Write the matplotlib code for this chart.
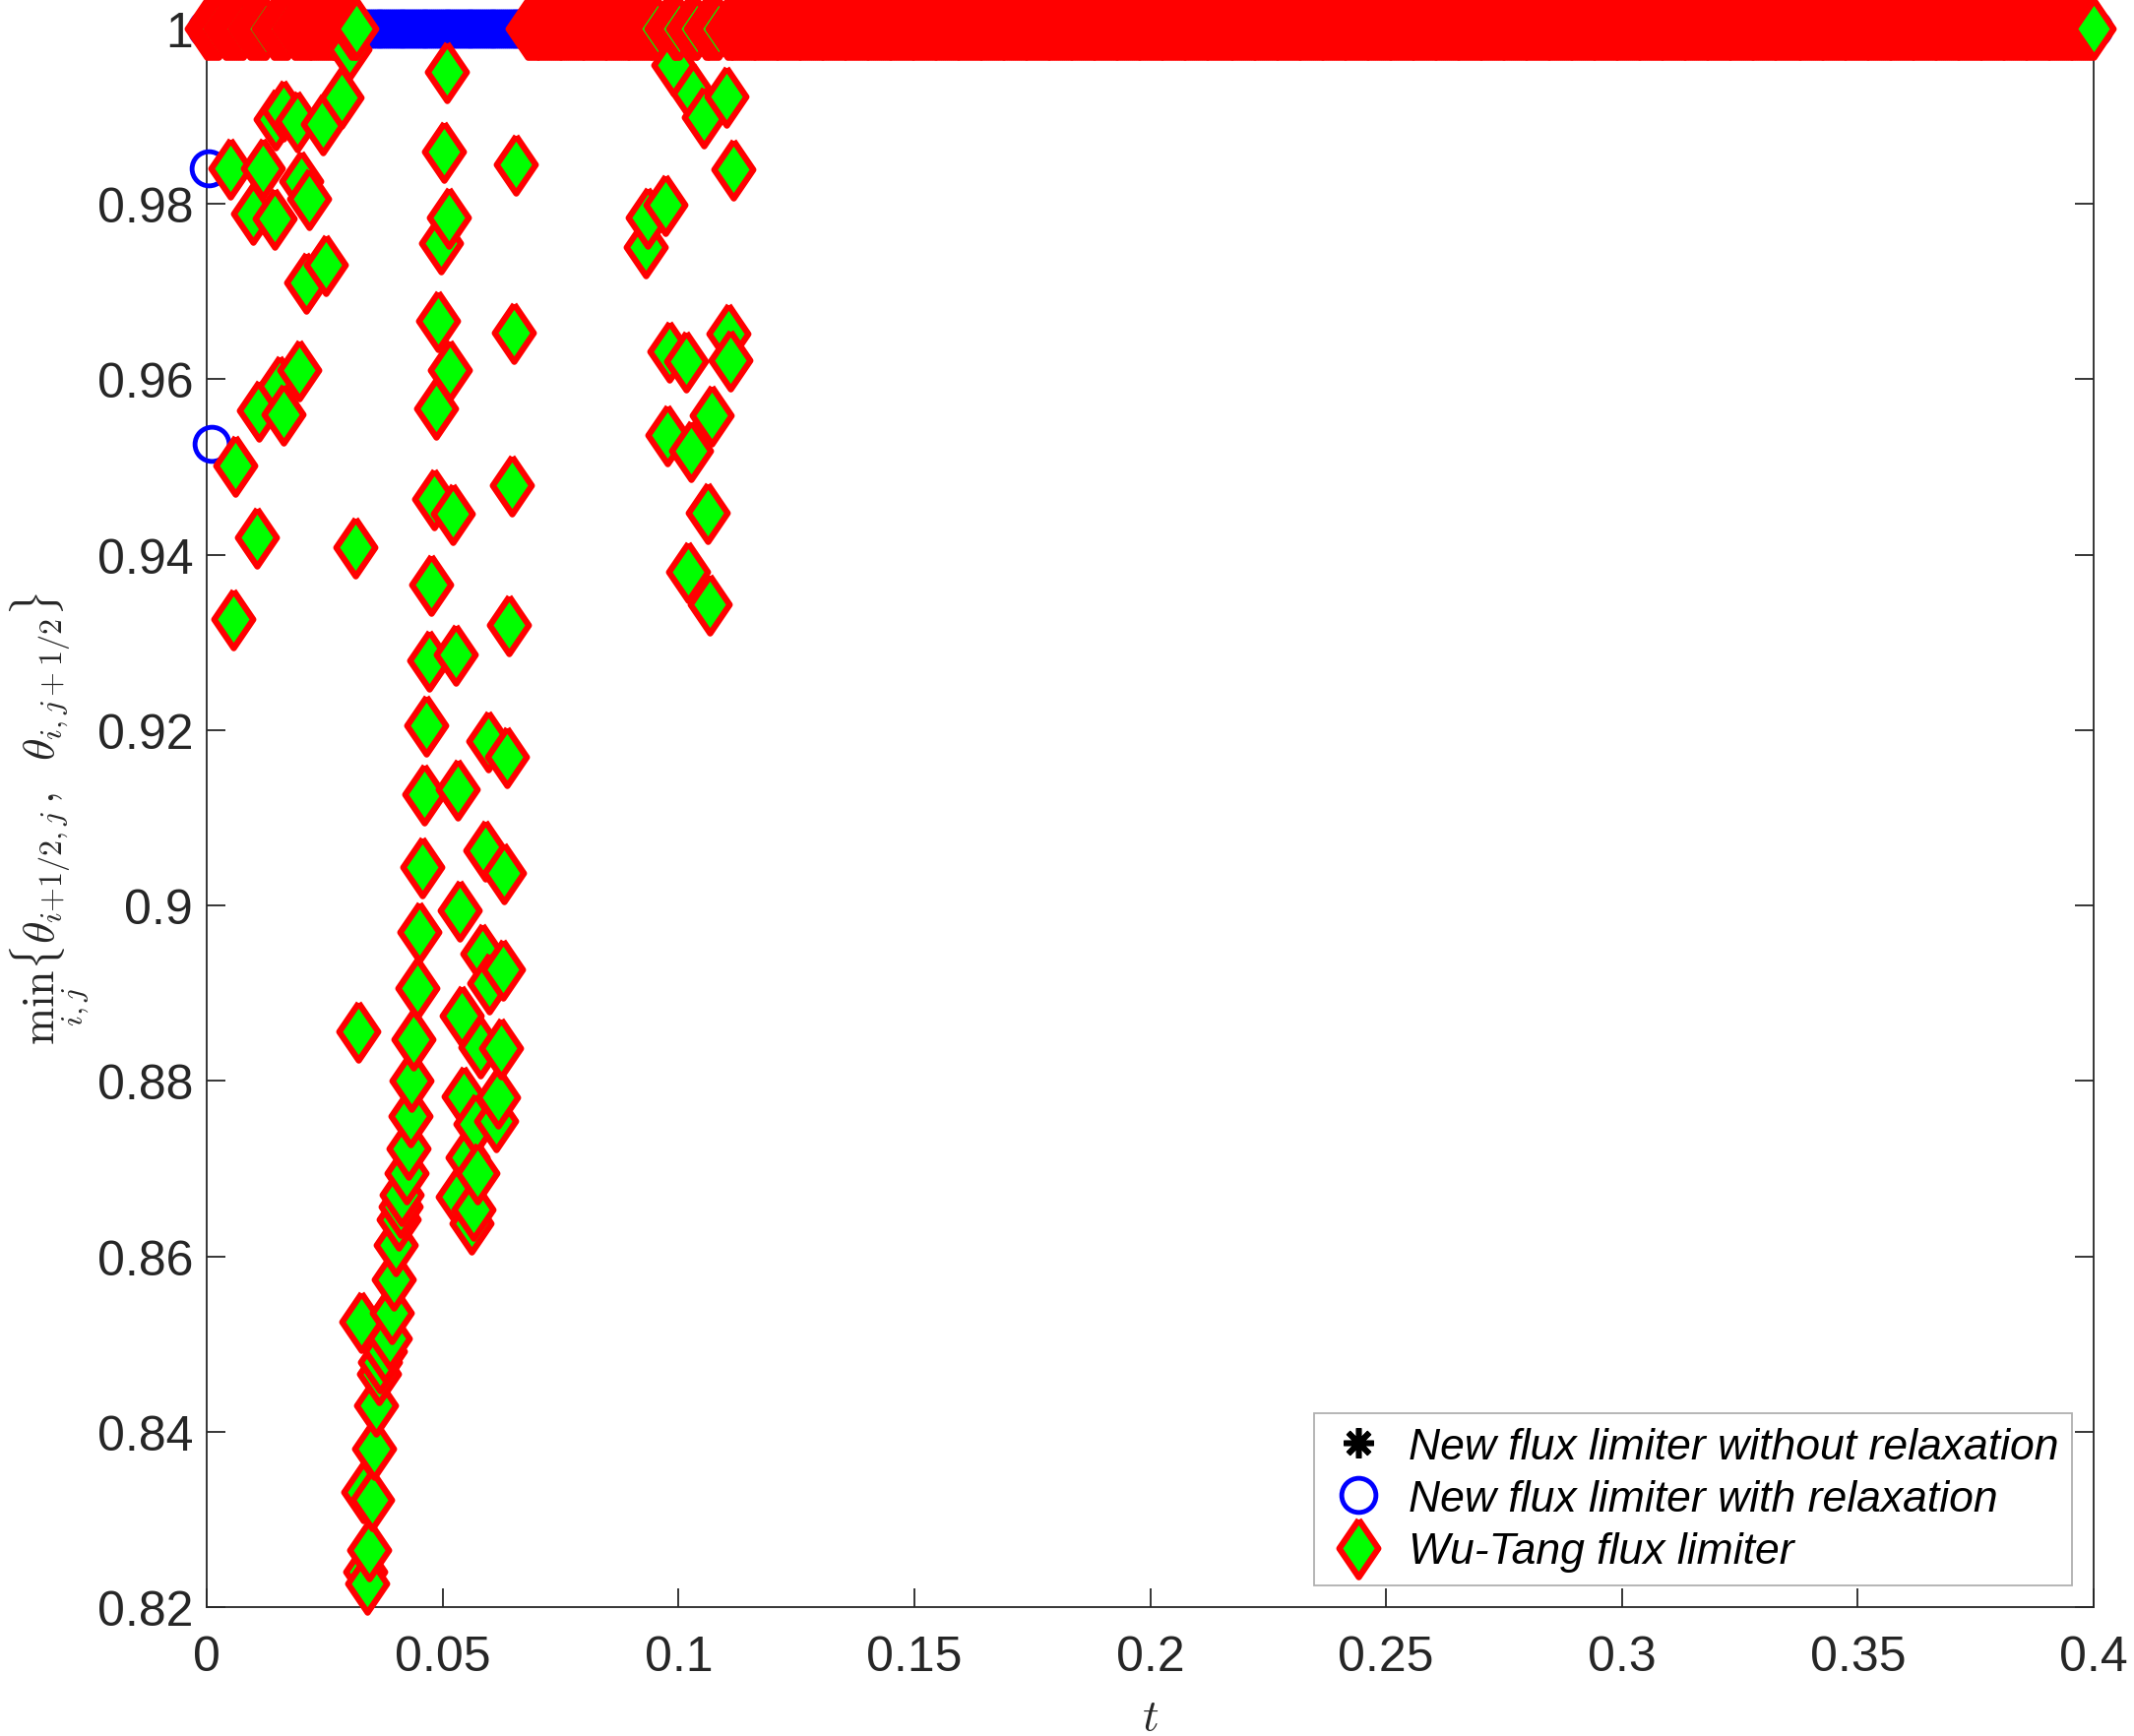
import matplotlib.pyplot as plt
import numpy as np
from matplotlib.markers import MarkerStyle

plt.rcParams['font.family'] = ['Liberation Sans', 'DejaVu Sans']
plt.rcParams['mathtext.fontset'] = 'cm'

# time stepping of the run
dt = 0.0004
t_end = 0.4

# new limiter with relaxation: only the first steps drop below 1
relax_t = [0.0005, 0.0010]
relax_y = [0.9841, 0.9527]

# Wu-Tang limiter: time spans where min theta stays at 1
wt_one_spans = [(0.0, 0.0023), (0.0040, 0.0075), (0.0092, 0.0125), (0.0142, 0.0169),
                (0.0186, 0.0317), (0.0680, 0.0956), (0.0974, 0.1002), (0.1020, 0.1039),
                (0.1057, 0.1085), (0.1103, 0.4)]

# Wu-Tang limiter: steps where min theta < 1
wt_t = [0.0050, 0.0098, 0.0119, 0.0143, 0.0145, 0.0163, 0.0192, 0.0201, 0.0217, 0.0210,
        0.0247, 0.0252, 0.0285, 0.0303, 0.0196, 0.0154, 0.0111, 0.0162, 0.0060, 0.0106,
        0.0315, 0.0056, 0.0322,
        0.0508, 0.0502, 0.0655, 0.0513, 0.0496, 0.0490, 0.0651, 0.0515, 0.0486, 0.0482,
        0.0522, 0.0646, 0.0475, 0.0640, 0.0471, 0.0527, 0.0466, 0.0597, 0.0636, 0.0461,
        0.0532, 0.0457, 0.0590, 0.0631, 0.0536, 0.0451, 0.0585, 0.0627, 0.0598, 0.0446,
        0.0439, 0.0540, 0.0580, 0.0623, 0.0434, 0.0545, 0.0617, 0.0432, 0.0569, 0.0613,
        0.0427, 0.0553, 0.0424, 0.0573, 0.0413, 0.0410, 0.0406, 0.0401, 0.0396, 0.0392,
        0.0327, 0.0387, 0.0378, 0.0368, 0.0365, 0.0359, 0.0355, 0.0331, 0.0350, 0.0345,
        0.0336, 0.0340, 0.0531, 0.0565, 0.0562,
        0.0930, 0.0935, 0.0973, 0.0988, 0.1030, 0.1053, 0.1102, 0.1116, 0.0981, 0.1016,
        0.1106, 0.1109, 0.1070, 0.0977, 0.1027, 0.1062, 0.1021, 0.1067]
wt_y = [0.9841, 0.9789, 0.9841, 0.9783, 0.9897, 0.9907, 0.9894, 0.9826, 0.9806, 0.9711,
        0.9891, 0.9731, 0.9922, 0.9976, 0.9611, 0.9593, 0.9565, 0.9560, 0.9502, 0.9420,
        0.9409, 0.9327, 0.8857,
        0.9951, 0.9860, 0.9845, 0.9785, 0.9755, 0.9667, 0.9653, 0.9611, 0.9567, 0.9464,
        0.9447, 0.9479, 0.9366, 0.9320, 0.9280, 0.9286, 0.9206, 0.9188, 0.9170, 0.9127,
        0.9133, 0.9044, 0.9063, 0.9037, 0.8994, 0.8970, 0.8945, 0.8927, 0.8912, 0.8906,
        0.8848, 0.8874, 0.8839, 0.8837, 0.8800, 0.8783, 0.8781, 0.8760, 0.8751, 0.8754,
        0.8723, 0.8713, 0.8695, 0.8695, 0.8670, 0.8657, 0.8642, 0.8613, 0.8574, 0.8536,
        0.8525, 0.8506, 0.8492, 0.8479, 0.8466, 0.8430, 0.8381, 0.8331, 0.8322, 0.8265,
        0.8241, 0.8227, 0.8668, 0.8653, 0.8638,
        0.9751, 0.9784, 0.9799, 0.9959, 0.9926, 0.9899, 0.9923, 0.9840, 0.9632, 0.9621,
        0.9652, 0.9622, 0.9559, 0.9537, 0.9519, 0.9448, 0.9381, 0.9344]

xticks = [0, 0.05, 0.1, 0.15, 0.2, 0.25, 0.3, 0.35, 0.4]
xticklabels = ['0', '0.05', '0.1', '0.15', '0.2', '0.25', '0.3', '0.35', '0.4']
yticks = [0.82, 0.84, 0.86, 0.88, 0.9, 0.92, 0.94, 0.96, 0.98, 1.0]
yticklabels = ['0.82', '0.84', '0.86', '0.88', '0.9', '0.92', '0.94', '0.96', '0.98', '1']

# build the series
t_all = np.arange(0, t_end + dt / 2, dt)
y_norelax = np.ones_like(t_all)

t_relax = np.concatenate([[0.0], relax_t, t_all[3:]])
y_relax = np.concatenate([[1.0], relax_y, np.ones(len(t_all) - 3)])

band_t = np.concatenate([np.arange(a, b + dt / 2, dt) for a, b in wt_one_spans])
t_wt = np.concatenate([band_t, wt_t])
y_wt = np.concatenate([np.ones_like(band_t), wt_y])
order = np.argsort(t_wt, kind='stable')
t_wt, y_wt = t_wt[order], y_wt[order]

diamond = MarkerStyle([(0, 1), (0.68, 0), (0, -1), (-0.68, 0), (0, 1)], joinstyle='miter')

fig = plt.figure(figsize=(21.68, 17.65), dpi=100)
ax = fig.add_axes([0.0969, 0.0742, 0.8842, 0.9088])

l1, = ax.plot(t_all, y_norelax, linestyle='none', marker=(8, 2, 0), markersize=22,
              markeredgewidth=4, color='black', clip_on=False, zorder=3,
              label='New flux limiter without relaxation')
l2, = ax.plot(t_relax, y_relax, linestyle='none', marker='o', markersize=25,
              markeredgewidth=3.5, markerfacecolor='none', markeredgecolor='#0000ff',
              clip_on=False, zorder=3, label='New flux limiter with relaxation')
l3, = ax.plot(t_wt, y_wt, linestyle='none', marker=diamond, markersize=42,
              markeredgewidth=4.5, markerfacecolor='#00ff00', markeredgecolor='#ff0000',
              clip_on=False, zorder=3, label='Wu-Tang flux limiter')

ax.set_xlim(0, 0.4)
ax.set_ylim(0.82, 1.0)
ax.set_xticks(xticks)
ax.set_xticklabels(xticklabels)
ax.set_yticks(yticks)
ax.set_yticklabels(yticklabels)

gray = '#262626'
for s in ax.spines.values():
    s.set_color(gray)
    s.set_linewidth(1.3)
ax.tick_params(direction='in', length=14, width=1.3, colors=gray, labelsize=36,
               top=True, right=True, pad=10)
ax.tick_params(axis='x', pad=20)
for lab in ax.get_xticklabels() + ax.get_yticklabels():
    lab.set_color(gray)

ax.set_xlabel(r'$t$', fontsize=33, color=gray, labelpad=12)
ax.set_ylabel(r'$\min_{i,j}\{\theta_{i+1/2,j},\;\;\theta_{i,j+1/2}\}$', fontsize=33,
              color=gray, labelpad=4)

leg = ax.legend(handles=[l1, l2, l3], loc='lower right', numpoints=1,
                prop={'style': 'italic', 'size': 32}, fancybox=False, framealpha=1,
                edgecolor='#b0b0b0', handlelength=1.45, handletextpad=0.42,
                borderpad=0.3, labelspacing=0.28, borderaxespad=0.5)
leg.get_frame().set_linewidth(1.3)
leg.set_zorder(5)

fig.savefig('out.png', dpi=100)
